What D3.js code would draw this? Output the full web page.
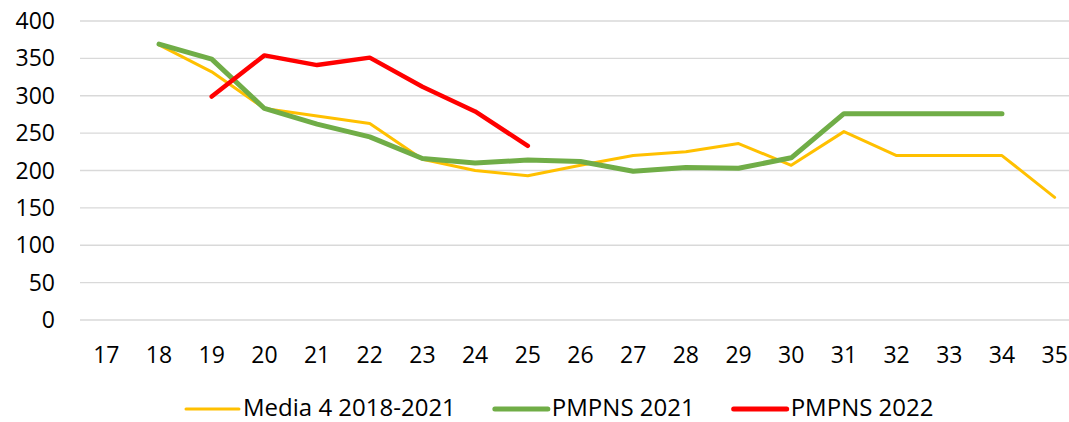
<!DOCTYPE html>
<html><head><meta charset="utf-8">
<script src="https://cdn.jsdelivr.net/npm/d3@7"></script>
<style>html,body{margin:0;padding:0;background:#fff;overflow:hidden}svg{display:block}</style>
</head><body>
<svg id="chart" width="1069" height="422"></svg>
<script>
const categories = ["17","18","19","20","21","22","23","24","25","26","27","28","29","30","31","32","33","34","35"];
const media4 = [null,368,332,283,273,263,215,200,193,207,220,225,236,207,252,220,220,220,164];
const pmpns2021 = [null,369,349,283,262,245,216,210,214,212,199,204,203,217,276,276,276,276,null];
const pmpns2022 = [null,null,299,354,341,351,312,279,233,null,null,null,null,null,null,null,null,null,null];
const yTicks = [0,50,100,150,200,250,300,350,400];
const seriesNames = ["Media 4 2018-2021","PMPNS 2021","PMPNS 2022"];
const seriesColors = ["#FFC000","#70AD47","#FF0000"];
const seriesWidths = [3,5,4.5];

(function(){
const svg = d3.select("#chart");
const font = "'Open Sans', sans-serif";
const fs = 23;
const pLeft = 80, pRight = 1081, pTop = 21, pBottom = 320;

const x = d3.scaleBand().domain(categories).range([pLeft, pRight]);
const y = d3.scaleLinear().domain([0,400]).range([pBottom, pTop]);

svg.append("g").selectAll("line").data(yTicks).join("line")
  .attr("x1", pLeft).attr("x2", pRight)
  .attr("y1", d => y(d)).attr("y2", d => y(d))
  .attr("stroke", "#d9d9d9").attr("stroke-width", 1.3);

svg.append("g").selectAll("text").data(yTicks).join("text")
  .attr("x", 55).attr("y", d => y(d)).attr("dy", "0.35em")
  .attr("text-anchor", "end").attr("font-family", font).attr("font-size", fs)
  .attr("fill", "#000").text(d => d);

svg.append("g").selectAll("text").data(categories).join("text")
  .attr("x", d => x(d) + x.bandwidth()/2).attr("y", 363)
  .attr("text-anchor", "middle").attr("font-family", font).attr("font-size", fs)
  .attr("fill", "#000").text(d => d);

const series = [media4, pmpns2021, pmpns2022];
const line = d3.line()
  .defined(d => d.v != null)
  .x(d => x(d.c) + x.bandwidth()/2)
  .y(d => y(d.v));

series.forEach((s, i) => {
  const data = categories.map((c, j) => ({c, v: s[j]}));
  svg.append("path").datum(data)
    .attr("d", line).attr("fill", "none")
    .attr("stroke", seriesColors[i]).attr("stroke-width", seriesWidths[i])
    .attr("stroke-linejoin", "round").attr("stroke-linecap", "round");
});

const lg = svg.append("g");
let lx = 186;
const ly = 409;
seriesNames.forEach((n, i) => {
  lg.append("line").attr("x1", lx).attr("x2", lx + 53).attr("y1", ly).attr("y2", ly)
    .attr("stroke", seriesColors[i]).attr("stroke-width", seriesWidths[i] < 4 ? 3 : 5)
    .attr("stroke-linecap", "round");
  const t = lg.append("text").attr("x", lx + 57).attr("y", 416)
    .attr("font-family", font).attr("font-size", 24).attr("fill", "#000").text(n);
  const w = t.node().getComputedTextLength();
  lx = lx + 57 + w + 39;
});
})();
</script>
</body></html>
